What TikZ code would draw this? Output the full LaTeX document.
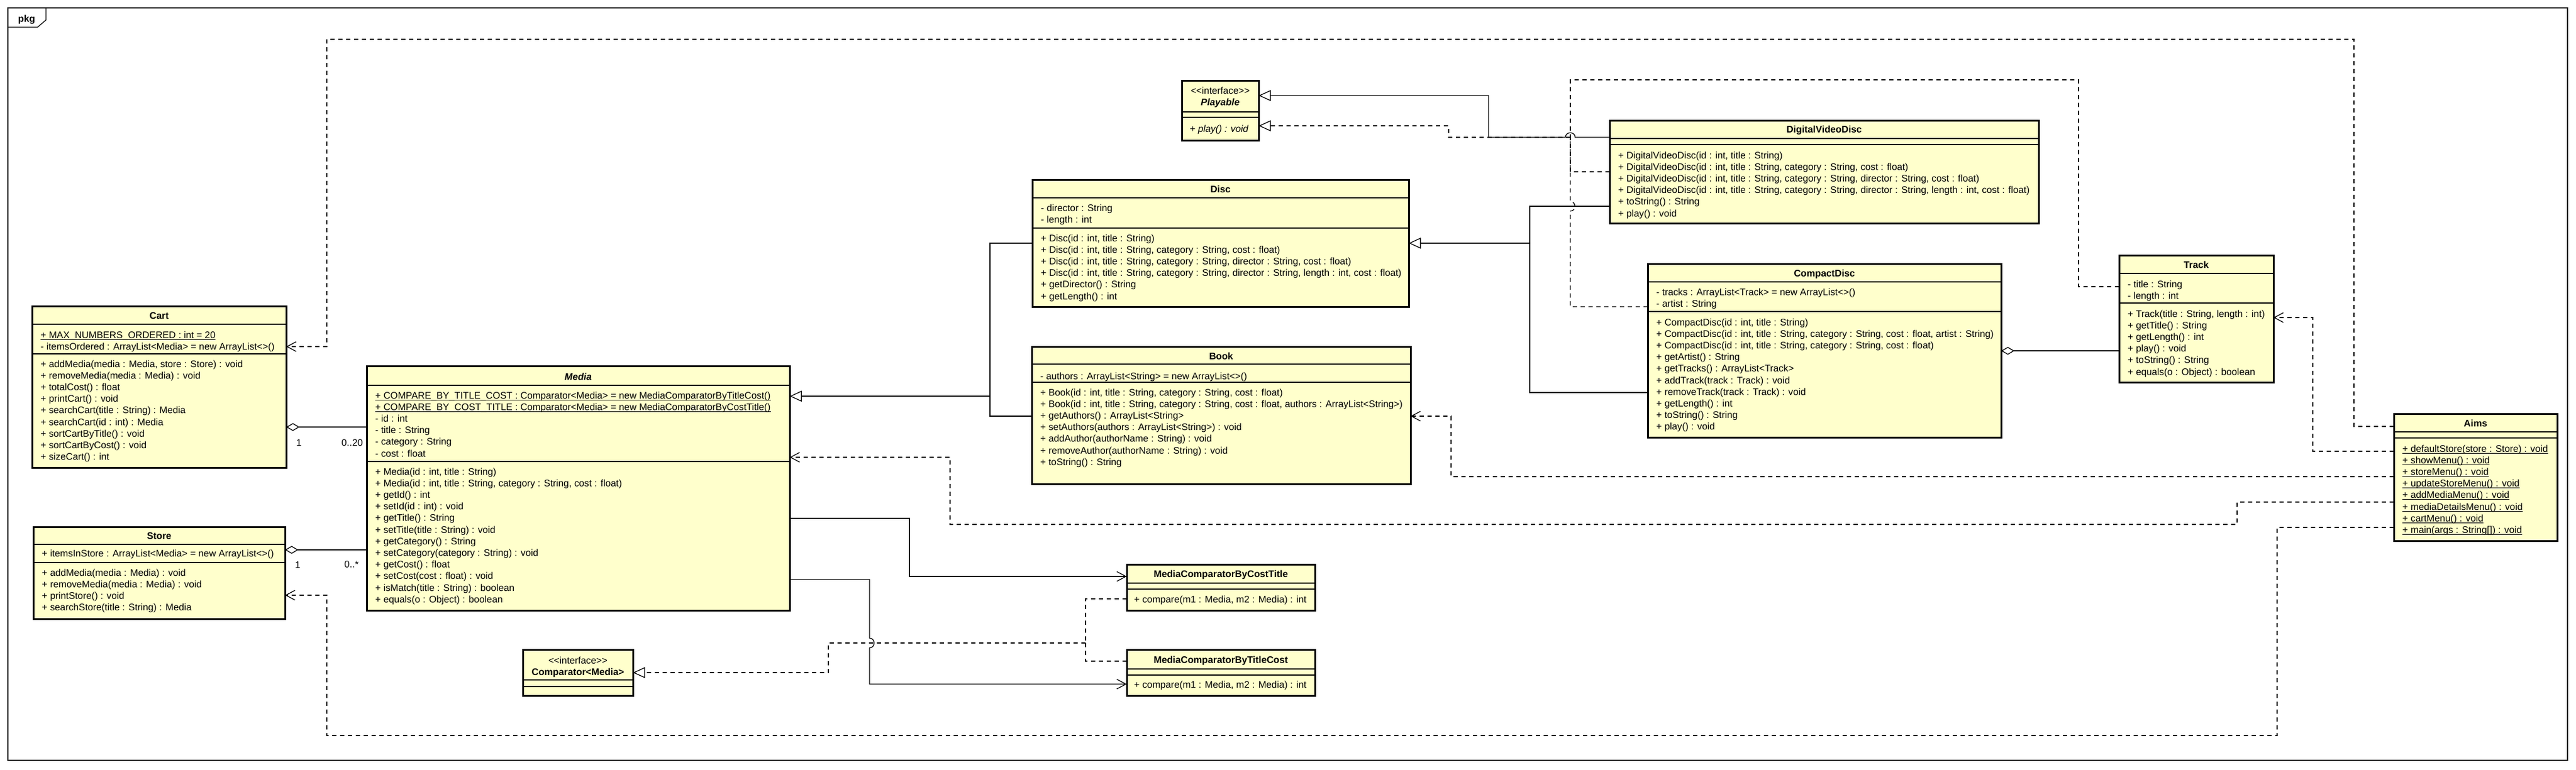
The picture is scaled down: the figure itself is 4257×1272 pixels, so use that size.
\documentclass[tikz,border=0pt]{standalone}
\usepackage{fontspec}
\setmainfont{Liberation Sans}
\usepackage{tikz}
\usetikzlibrary{arrows.meta,calc}
\definecolor{classfill}{HTML}{FFFFCC}
\newcommand\memberfont{\fontsize{15.8}{19.2}\selectfont}
\newcommand\ultext[1]{\setbox0\hbox{#1}\rlap{\rule[-2.6pt]{\wd0}{1.1pt}}\box0}

\begin{document}
\begin{tikzpicture}[x=1pt, y=-1pt,
    umlclass/.style={draw, line width=3pt, fill=classfill, anchor=north west, inner sep=0pt, outer sep=0pt},
    divider/.style={line width=1.3pt},
    ctitle/.style={font=\memberfont\bfseries, anchor=base},
    member/.style={font=\memberfont, anchor=base west, inner sep=0pt},
    mult/.style={font=\memberfont, anchor=base},
    conn/.style={line width=1.3pt},
    aggr/.style={conn, {Diamond[open, length=22pt, width=13pt]}-},
    gener/.style={conn, -{Triangle[open, length=20pt, width=18pt]}},
    real/.style={conn, dash pattern=on 7pt off 6pt, -{Triangle[open, length=20pt, width=18pt]}},
    realline/.style={conn, dash pattern=on 7pt off 6pt},
    dep/.style={conn, dash pattern=on 7pt off 6pt, -{Straight Barb[length=15pt, width=16pt]}},
    assoc/.style={conn, -{Straight Barb[length=15pt, width=16pt]}}]

    \fill[white] (0,0) rectangle (4257,1272);
    \useasboundingbox (0,0) rectangle (4257,1272);

    % Package frame
    \draw[line width=2pt] (13,13) rectangle (4243,1257);
    \draw[line width=1.3pt] (13,45) -- (62,45) -- (76,33) -- (76,13);
    \node[ctitle] (pkg) at (44,36) {pkg};

    % Cart
    \node[umlclass, minimum width=420, minimum height=267] (cart) at (53,506) {};
    \draw[divider] ($(cart.north west)+(0,30)$) -- ($(cart.north east)+(0,30)$);
    \draw[divider] ($(cart.north west)+(0,79)$) -- ($(cart.north east)+(0,79)$);
    \node[ctitle] (cart-name) at (263,527) {Cart};
    \node[member] (cart-a0) at (67,559) {\ultext{+ MAX\_NUMBERS\_ORDERED : int = 20}};
    \node[member] (cart-a1) at (67,578) {- itemsOrdered : ArrayList<Media> = new ArrayList<>()};
    \foreach \t [count=\i from 0] in {{+ addMedia(media : Media, store : Store) : void},
        {+ removeMedia(media : Media) : void}, {+ totalCost() : float}, {+ printCart() : void},
        {+ searchCart(title : String) : Media}, {+ searchCart(id : int) : Media},
        {+ sortCartByTitle() : void}, {+ sortCartByCost() : void}, {+ sizeCart() : int}}
        \node[member] (cart-m\i) at (67,607+19.2*\i) {\t};

    % Store
    \node[umlclass, minimum width=416, minimum height=152] (store) at (55,871) {};
    \draw[divider] ($(store.north west)+(0,29)$) -- ($(store.north east)+(0,29)$);
    \draw[divider] ($(store.north west)+(0,59)$) -- ($(store.north east)+(0,59)$);
    \node[ctitle] (store-name) at (263,891) {Store};
    \node[member] (store-a0) at (69,920) {+ itemsInStore : ArrayList<Media> = new ArrayList<>()};
    \foreach \t [count=\i from 0] in {{+ addMedia(media : Media) : void},
        {+ removeMedia(media : Media) : void}, {+ printStore() : void},
        {+ searchStore(title : String) : Media}}
        \node[member] (store-m\i) at (69,952+19.2*\i) {\t};

    % Media
    \node[umlclass, minimum width=699, minimum height=404] (media) at (606,605) {};
    \draw[divider] ($(media.north west)+(0,32)$) -- ($(media.north east)+(0,32)$);
    \draw[divider] ($(media.north west)+(0,158)$) -- ($(media.north east)+(0,158)$);
    \node[ctitle] (media-name) at (955.5,628) {\itshape Media};
    \node[member] (media-a0) at (620,659) {\ultext{+ COMPARE\_BY\_TITLE\_COST : Comparator<Media> = new MediaComparatorByTitleCost()}};
    \node[member] (media-a1) at (620,678.2) {\ultext{+ COMPARE\_BY\_COST\_TITLE : Comparator<Media> = new MediaComparatorByCostTitle()}};
    \node[member] (media-a2) at (620,697.4) {- id : int};
    \node[member] (media-a3) at (620,716.6) {- title : String};
    \node[member] (media-a4) at (620,735.8) {- category : String};
    \node[member] (media-a5) at (620,755) {- cost : float};
    \foreach \t [count=\i from 0] in {{+ Media(id : int, title : String)},
        {+ Media(id : int, title : String, category : String, cost : float)},
        {+ getId() : int}, {+ setId(id : int) : void}, {+ getTitle() : String},
        {+ setTitle(title : String) : void}, {+ getCategory() : String},
        {+ setCategory(category : String) : void}, {+ getCost() : float},
        {+ setCost(cost : float) : void}, {+ isMatch(title : String) : boolean},
        {+ equals(o : Object) : boolean}}
        \node[member] (media-m\i) at (620,785+19.2*\i) {\t};

    % Disc
    \node[umlclass, minimum width=622, minimum height=210] (disc) at (1706,297) {};
    \draw[divider] ($(disc.north west)+(0,30)$) -- ($(disc.north east)+(0,30)$);
    \draw[divider] ($(disc.north west)+(0,80)$) -- ($(disc.north east)+(0,80)$);
    \node[ctitle] (disc-name) at (2017,318) {Disc};
    \node[member] (disc-a0) at (1720,349) {- director : String};
    \node[member] (disc-a1) at (1720,368.2) {- length : int};
    \foreach \t [count=\i from 0] in {{+ Disc(id : int, title : String)},
        {+ Disc(id : int, title : String, category : String, cost : float)},
        {+ Disc(id : int, title : String, category : String, director : String, cost : float)},
        {+ Disc(id : int, title : String, category : String, director : String, length : int, cost : float)},
        {+ getDirector() : String}, {+ getLength() : int}}
        \node[member] (disc-m\i) at (1720,399+19.2*\i) {\t};

    % Book
    \node[umlclass, minimum width=626, minimum height=227] (book) at (1705,573) {};
    \draw[divider] ($(book.north west)+(0,29)$) -- ($(book.north east)+(0,29)$);
    \draw[divider] ($(book.north west)+(0,59)$) -- ($(book.north east)+(0,59)$);
    \node[ctitle] (book-name) at (2018,594) {Book};
    \node[member] (book-a0) at (1719,627) {- authors : ArrayList<String> = new ArrayList<>()};
    \foreach \t [count=\i from 0] in {{+ Book(id : int, title : String, category : String, cost : float)},
        {+ Book(id : int, title : String, category : String, cost : float, authors : ArrayList<String>)},
        {+ getAuthors() : ArrayList<String>}, {+ setAuthors(authors : ArrayList<String>) : void},
        {+ addAuthor(authorName : String) : void}, {+ removeAuthor(authorName : String) : void},
        {+ toString() : String}}
        \node[member] (book-m\i) at (1719,654+19.2*\i) {\t};

    % Playable
    \node[umlclass, minimum width=127, minimum height=99] (playable) at (1953,133) {};
    \draw[divider] ($(playable.north west)+(0,52)$) -- ($(playable.north east)+(0,52)$);
    \draw[divider] ($(playable.north west)+(0,61)$) -- ($(playable.north east)+(0,61)$);
    \node[mult] (playable-st) at (2016.5,155) {<{}<interface>{}>};
    \node[ctitle] (playable-name) at (2016.5,174) {\itshape Playable};
    \node[member] (playable-m0) at (1966,218) {\itshape + play() : void};

    % DigitalVideoDisc
    \node[umlclass, minimum width=709, minimum height=170] (dvd) at (2660,199) {};
    \draw[divider] ($(dvd.north west)+(0,30)$) -- ($(dvd.north east)+(0,30)$);
    \draw[divider] ($(dvd.north west)+(0,40)$) -- ($(dvd.north east)+(0,40)$);
    \node[ctitle] (dvd-name) at (3014.5,219) {DigitalVideoDisc};
    \foreach \t [count=\i from 0] in {{+ DigitalVideoDisc(id : int, title : String)},
        {+ DigitalVideoDisc(id : int, title : String, category : String, cost : float)},
        {+ DigitalVideoDisc(id : int, title : String, category : String, director : String, cost : float)},
        {+ DigitalVideoDisc(id : int, title : String, category : String, director : String, length : int, cost : float)},
        {+ toString() : String}, {+ play() : void}}
        \node[member] (dvd-m\i) at (2674,262+19.2*\i) {\t};

    % CompactDisc
    \node[umlclass, minimum width=584, minimum height=287] (cd) at (2723,436) {};
    \draw[divider] ($(cd.north west)+(0,30)$) -- ($(cd.north east)+(0,30)$);
    \draw[divider] ($(cd.north west)+(0,79)$) -- ($(cd.north east)+(0,79)$);
    \node[ctitle] (cd-name) at (3015,457) {CompactDisc};
    \node[member] (cd-a0) at (2737,488) {- tracks : ArrayList<Track> = new ArrayList<>()};
    \node[member] (cd-a1) at (2737,507.2) {- artist : String};
    \foreach \t [count=\i from 0] in {{+ CompactDisc(id : int, title : String)},
        {+ CompactDisc(id : int, title : String, category : String, cost : float, artist : String)},
        {+ CompactDisc(id : int, title : String, category : String, cost : float)},
        {+ getArtist() : String}, {+ getTracks() : ArrayList<Track>},
        {+ addTrack(track : Track) : void}, {+ removeTrack(track : Track) : void},
        {+ getLength() : int}, {+ toString() : String}, {+ play() : void}}
        \node[member] (cd-m\i) at (2737,538+19.2*\i) {\t};

    % Track
    \node[umlclass, minimum width=255, minimum height=210] (track) at (3502,422) {};
    \draw[divider] ($(track.north west)+(0,30)$) -- ($(track.north east)+(0,30)$);
    \draw[divider] ($(track.north west)+(0,79)$) -- ($(track.north east)+(0,79)$);
    \node[ctitle] (track-name) at (3629.5,443) {Track};
    \node[member] (track-a0) at (3516,475) {- title : String};
    \node[member] (track-a1) at (3516,494.2) {- length : int};
    \foreach \t [count=\i from 0] in {{+ Track(title : String, length : int)},
        {+ getTitle() : String}, {+ getLength() : int}, {+ play() : void},
        {+ toString() : String}, {+ equals(o : Object) : boolean}}
        \node[member] (track-m\i) at (3516,524+19.2*\i) {\t};

    % Aims
    \node[umlclass, minimum width=270, minimum height=210] (aims) at (3956,684) {};
    \draw[divider] ($(aims.north west)+(0,30)$) -- ($(aims.north east)+(0,30)$);
    \draw[divider] ($(aims.north west)+(0,40)$) -- ($(aims.north east)+(0,40)$);
    \node[ctitle] (aims-name) at (4091,705) {Aims};
    \foreach \t [count=\i from 0] in {{+ defaultStore(store : Store) : void},
        {+ showMenu() : void}, {+ storeMenu() : void}, {+ updateStoreMenu() : void},
        {+ addMediaMenu() : void}, {+ mediaDetailsMenu() : void}, {+ cartMenu() : void},
        {+ main(args : String[]) : void}}
        \node[member] (aims-m\i) at (3970,747+19.2*\i) {\ultext{\t}};

    % Comparators
    \node[umlclass, minimum width=311, minimum height=76] (mccost) at (1862,933) {};
    \draw[divider] ($(mccost.north west)+(0,31)$) -- ($(mccost.north east)+(0,31)$);
    \draw[divider] ($(mccost.north west)+(0,41)$) -- ($(mccost.north east)+(0,41)$);
    \node[ctitle] (mccost-name) at (2017.5,954) {MediaComparatorByCostTitle};
    \node[member] (mccost-m0) at (1874,996) {+ compare(m1 : Media, m2 : Media) : int};

    \node[umlclass, minimum width=311, minimum height=76] (mctitle) at (1862,1074) {};
    \draw[divider] ($(mctitle.north west)+(0,32)$) -- ($(mctitle.north east)+(0,32)$);
    \draw[divider] ($(mctitle.north west)+(0,42)$) -- ($(mctitle.north east)+(0,42)$);
    \node[ctitle] (mctitle-name) at (2017.5,1096) {MediaComparatorByTitleCost};
    \node[member] (mctitle-m0) at (1874,1137) {+ compare(m1 : Media, m2 : Media) : int};

    \node[umlclass, minimum width=182, minimum height=76] (comparator) at (864,1074) {};
    \draw[divider] ($(comparator.north west)+(0,50)$) -- ($(comparator.north east)+(0,50)$);
    \draw[divider] ($(comparator.north west)+(0,61)$) -- ($(comparator.north east)+(0,61)$);
    \node[mult] (comparator-st) at (955,1097) {<{}<interface>{}>};
    \node[ctitle] (comparator-name) at (955,1116) {Comparator<Media>};

    % Aggregations
    \draw[aggr] ($(cart.north east)+(0,200)$) -- ($(media.north west)+(0,101)$);
    \draw[aggr] ($(store.north east)+(0,38)$) -- ($(media.north west)+(0,304)$);
    \draw[aggr] ($(cd.north east)+(0,144)$) -- ($(track.north west)+(0,158)$);
    \node[mult] (cart-one) at (494,737) {1};
    \node[mult] (cart-many) at (582,737) {0..20};
    \node[mult] (store-one) at (492,939) {1};
    \node[mult] (store-many) at (581,938) {0..*};

    % Generalizations
    \draw[gener] ($(disc.north west)+(0,105)$) -| (1636,655) -- ($(media.north east)+(0,50)$);
    \draw[conn] ($(book.north west)+(0,115)$) -| (1636,655);
    \draw[gener] ($(dvd.north west)+(0,142)$) -| (2528,402) -- ($(disc.north east)+(0,105)$);
    \draw[conn] ($(cd.north west)+(0,213)$) -| (2528,402);
    \draw[gener] ($(dvd.north west)+(0,28)$) -- (2603,227) .. controls (2603,217) and (2587,217) .. (2587,227)
        -| (2460,158) -- ($(playable.north east)+(0,25)$);

    % Realizations of Playable
    \coordinate (pjoin) at (2595,227);
    \draw[real] (pjoin) -| (2394,208) -- ($(playable.north east)+(0,75)$);
    \draw[realline] ($(track.north west)+(0,52)$) -| (3435,132) -| (pjoin);
    \draw[realline] ($(dvd.north west)+(0,85)$) -| (pjoin);
    \draw[realline] ($(cd.north west)+(0,71)$) -| (2595,349)
        .. controls (2605,349) and (2605,333) .. (2595,333) -- (pjoin);

    % Dependencies of Aims
    \draw[dep] ($(aims.north west)+(0,21)$) -| (3890,65) -| (540,573) -- ($(cart.north east)+(0,67)$);
    \draw[dep] ($(aims.north west)+(0,62)$) -| (3822,525) -- ($(track.north east)+(0,103)$);
    \draw[dep] ($(aims.north west)+(0,104)$) -| (2398,688) -- ($(book.north east)+(0,115)$);
    \draw[dep] ($(aims.north west)+(0,146)$) -| (3697,867) -| (1570,756) -- ($(media.north east)+(0,151)$);
    \draw[dep] ($(aims.north west)+(0,188)$) -| (3763,1216) -| (540,984) -- ($(store.north east)+(0,113)$);

    % Associations to comparators
    \draw[assoc] ($(media.north east)+(0,252)$) -| (1503,953) -- ($(mccost.north west)+(0,20)$);
    \draw[assoc] ($(media.north east)+(0,353)$) -| (1437,1055) .. controls (1447,1055) and (1447,1071) .. (1437,1071)
        |- ($(mctitle.north west)+(0,57)$);

    % Realizations of Comparator
    \coordinate (cjoin) at (1794,1063);
    \draw[realline] ($(mccost.north west)+(0,57)$) -| (cjoin);
    \draw[realline] ($(mctitle.north west)+(0,19)$) -| (cjoin);
    \draw[real] (cjoin) -| (1369,1112) -- ($(comparator.north east)+(0,38)$);
\end{tikzpicture}
\end{document}
